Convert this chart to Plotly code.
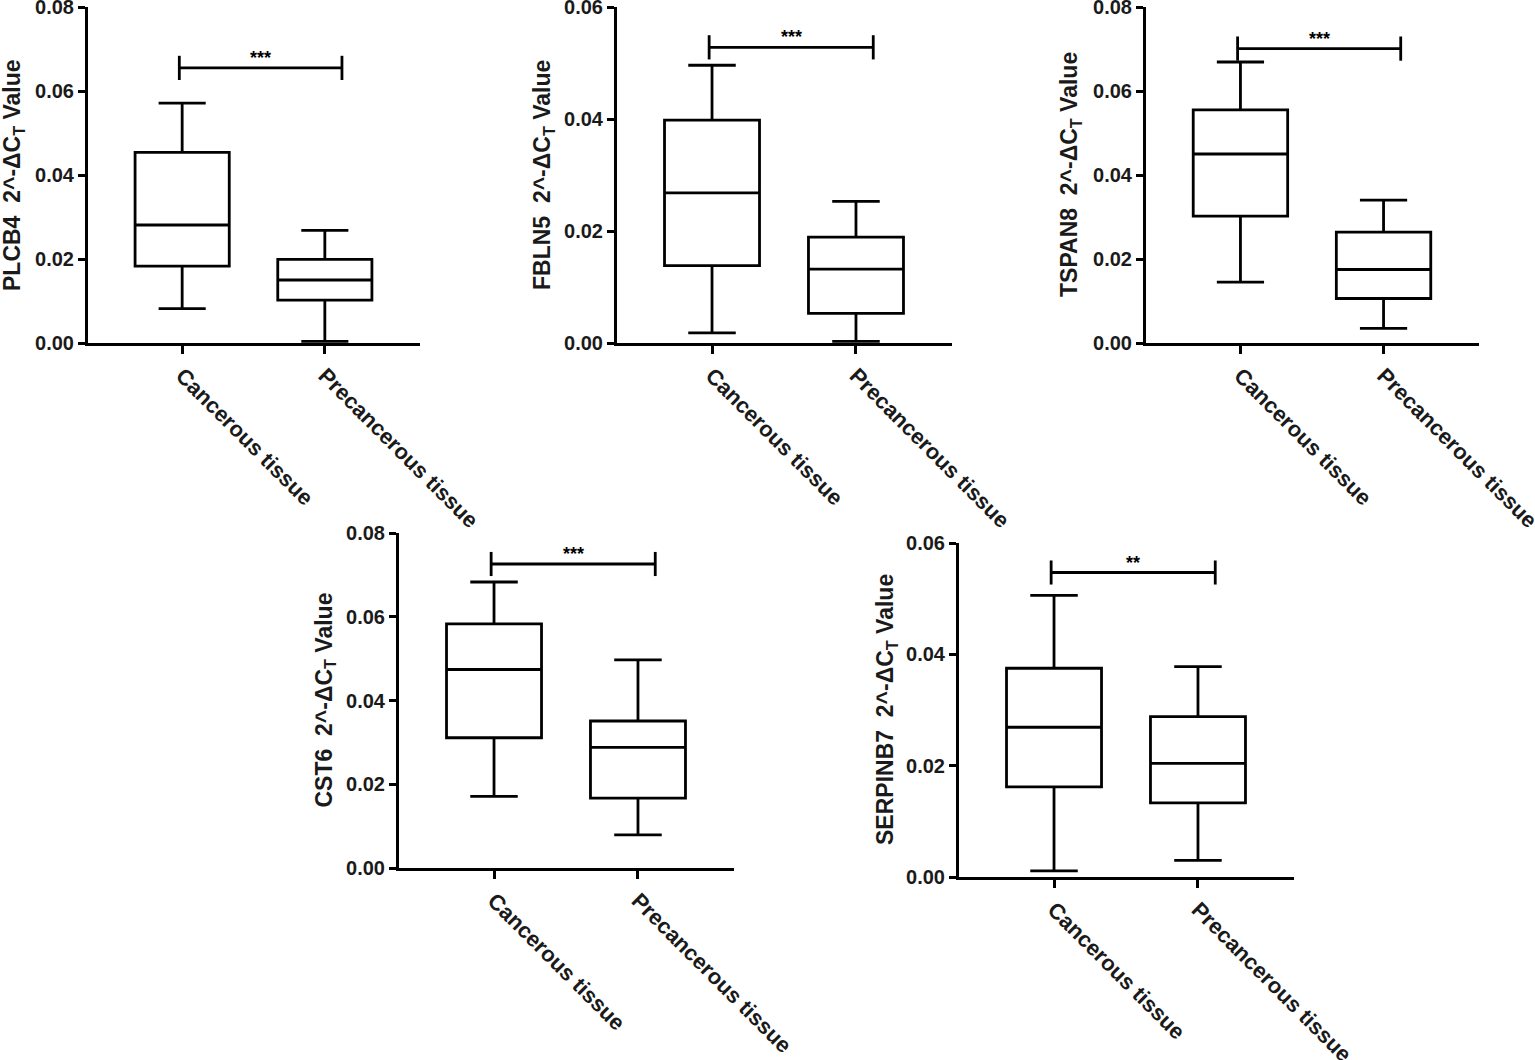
import plotly.graph_objects as go

# values (cancerous, precancerous) per gene
genes = ["PLCB4", "FBLN5", "TSPAN8", "CST6", "SERPINB7"]
groups = ["Cancerous tissue", "Precancerous tissue"]

whisker_low = [[0.0082, 0.0004], [0.0018, 0.0003], [0.0145, 0.0035], [0.0171, 0.0079], [0.0011, 0.0030]]
q1 = [[0.0183, 0.0102], [0.0138, 0.0053], [0.0302, 0.0106], [0.0311, 0.0167], [0.0162, 0.0133]]
median = [[0.0281, 0.0150], [0.0268, 0.0132], [0.0450, 0.0175], [0.0474, 0.0288], [0.0269, 0.0204]]
q3 = [[0.0454, 0.0199], [0.0398, 0.0189], [0.0555, 0.0264], [0.0583, 0.0351], [0.0375, 0.0288]]
whisker_high = [[0.0571, 0.0268], [0.0496, 0.0253], [0.0669, 0.0340], [0.0683, 0.0497], [0.0506, 0.0378]]

y_max = [0.08, 0.06, 0.08, 0.08, 0.06]
sig_level = [0.0655, 0.0528, 0.0701, 0.0726, 0.0547]
sig_text = ["***", "***", "***", "***", "**"]

W, H = 1535, 1060
# panel boxes in pixels: left, right, top, bottom, title centre x
panels = [
    (88, 420, 7, 343, 13),
    (617, 952, 7, 343, 543),
    (1146, 1479, 7, 343, 1070),
    (399, 734, 533, 868, 325),
    (959, 1294, 543, 877, 886),
]

FONT = "Liberation Sans, Arial, sans-serif"

fig = go.Figure()
layout = {}

for i, gene in enumerate(genes):
    n = "" if i == 0 else str(i + 1)
    xl, xr, yt, yb, tx = panels[i]

    fig.add_trace(go.Box(
        x=groups,
        lowerfence=whisker_low[i], q1=q1[i], median=median[i],
        q3=q3[i], upperfence=whisker_high[i],
        xaxis="x" + n, yaxis="y" + n,
        fillcolor="white", line=dict(color="black", width=2.8),
        width=0.66, whiskerwidth=0.5, boxpoints=False,
        showlegend=False))

    layout["xaxis" + n] = dict(
        domain=[xl / W, xr / W], anchor="y" + n, type="category",
        range=[-0.66, 1.667], showgrid=False, zeroline=False, automargin=False,
        showline=True, linecolor="black", linewidth=3,
        ticks="outside", ticklen=8, tickwidth=3, tickcolor="black",
        tickangle=45, tickfont=dict(family=FONT, size=22, color="#1a1a1a", weight="bold"))
    layout["yaxis" + n] = dict(
        domain=[1 - yb / H, 1 - yt / H], anchor="x" + n,
        range=[0, y_max[i]], dtick=0.02, tickformat=".2f",
        showgrid=False, zeroline=False, automargin=False, ticklabeloverflow="allow",
        showline=True, linecolor="black", linewidth=3,
        ticks="outside", ticklen=7, tickwidth=2.5, tickcolor="black",
        tickfont=dict(family=FONT, size=20, color="#1a1a1a", weight="bold"))

    # significance bracket
    d = y_max[i] * 0.036
    s = sig_level[i]
    xa, ya = "x" + n, "y" + n
    for x0, y0, x1, y1 in [(-0.02, s, 1.12, s), (-0.02, s - d, -0.02, s + d), (1.12, s - d, 1.12, s + d)]:
        fig.add_shape(type="line", x0=x0, y0=y0, x1=x1, y1=y1, xref=xa, yref=ya,
                      line=dict(color="black", width=2.8))
    fig.add_annotation(x=0.55, y=s, xref=xa, yref=ya, text=sig_text[i],
                       showarrow=False, yanchor="bottom", yshift=-2,
                       font=dict(family=FONT, size=18, color="black", weight="bold"))

    # y-axis title
    fig.add_annotation(x=tx / W, y=1 - (yt + yb) / 2 / H, xref="paper", yref="paper",
                       text=gene + "  2^-ΔC<sub>T</sub> Value", textangle=-90,
                       showarrow=False, xanchor="center", yanchor="middle",
                       font=dict(family=FONT, size=23, color="#1a1a1a", weight="bold"))

fig.update_layout(
    width=W, height=H, margin=dict(l=0, r=0, t=0, b=0),
    paper_bgcolor="white", plot_bgcolor="white", **layout)

fig.write_html("out.html", config={"displayModeBar": False},
               post_script="document.body.style.margin='0px';")
